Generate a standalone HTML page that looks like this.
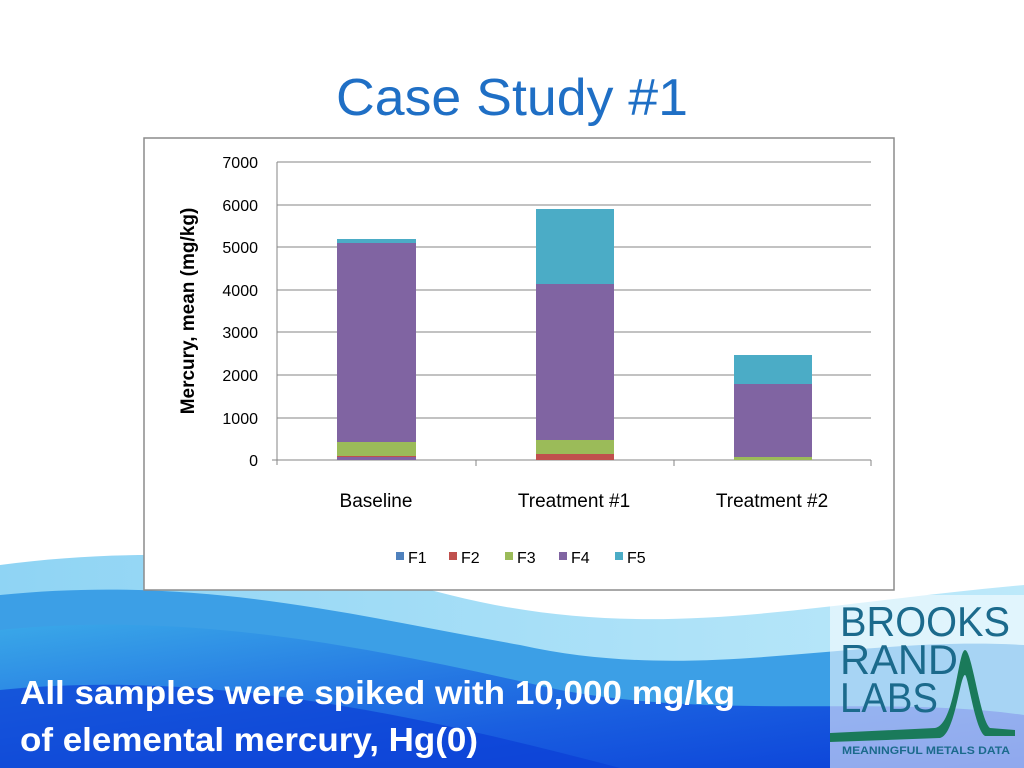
<!DOCTYPE html>
<html><head><style>
body{margin:0;width:1024px;height:768px;overflow:hidden;background:#fff;font-family:"Liberation Sans",sans-serif;position:relative}
</style></head><body>
<svg width="1024" height="768" style="position:absolute;left:0;top:0">
<defs>
<linearGradient id="g1" x1="0" y1="0" x2="1" y2="1"><stop offset="0" stop-color="#3aa8e8"/><stop offset="0.6" stop-color="#1a5fe0"/><stop offset="1" stop-color="#0a3fd8"/></linearGradient>
<linearGradient id="g2" x1="0" y1="0" x2="1" y2="0"><stop offset="0" stop-color="#8fd4f4"/><stop offset="1" stop-color="#bde9fa"/></linearGradient>
</defs>
<path d="M0 565 C150 545 300 555 450 595 C650 645 800 605 1024 585 L1024 768 L0 768Z" fill="url(#g2)"/>
<path d="M0 595 C200 575 350 615 520 645 C700 685 850 635 1024 645 L1024 768 L0 768Z" fill="#3c9fe6"/>
<path d="M0 630 C200 610 380 650 560 690 C720 720 880 695 1024 715 L1024 768 L0 768Z" fill="url(#g1)"/>
<path d="M0 690 C200 670 400 710 620 768 L0 768Z" fill="#0b3ed6" opacity="0.7"/>
<rect x="830" y="595" width="194" height="173" fill="#fff" opacity="0.55"/>
<rect x="144" y="138" width="750" height="452" fill="#fff" stroke="#8c8c8c" stroke-width="1.5"/>
<g stroke="#868686" stroke-width="1">
<line x1="277" y1="162" x2="871" y2="162"/><line x1="277" y1="205" x2="871" y2="205"/><line x1="277" y1="247" x2="871" y2="247"/><line x1="277" y1="290" x2="871" y2="290"/><line x1="277" y1="332" x2="871" y2="332"/><line x1="277" y1="375" x2="871" y2="375"/><line x1="277" y1="418" x2="871" y2="418"/>
<line x1="277" y1="162" x2="277" y2="465"/><line x1="272" y1="460" x2="871" y2="460"/>
<line x1="476" y1="460" x2="476" y2="466"/><line x1="674" y1="460" x2="674" y2="466"/><line x1="871" y1="460" x2="871" y2="466"/>
</g>
<g font-size="16" fill="#000" text-anchor="end">
<text x="258" y="168">7000</text><text x="258" y="211">6000</text><text x="258" y="253">5000</text><text x="258" y="296">4000</text><text x="258" y="338">3000</text><text x="258" y="381">2000</text><text x="258" y="424">1000</text><text x="258" y="466">0</text>
</g>
<text transform="translate(194 311) rotate(-90)" text-anchor="middle" font-size="19" font-weight="bold">Mercury, mean (mg/kg)</text>
<rect x="337" y="456" width="79" height="4" fill="#8064a2"/><rect x="337" y="456" width="79" height="1" fill="#c0504d"/>
<rect x="337" y="442" width="79" height="14" fill="#9bbb59"/>
<rect x="337" y="243" width="79" height="199" fill="#8064a2"/>
<rect x="337" y="239" width="79" height="4" fill="#4bacc6"/>
<rect x="536" y="454" width="78" height="6" fill="#c0504d"/>
<rect x="536" y="440" width="78" height="14" fill="#9bbb59"/>
<rect x="536" y="284" width="78" height="156" fill="#8064a2"/>
<rect x="536" y="209" width="78" height="75" fill="#4bacc6"/>
<rect x="734" y="457" width="78" height="3" fill="#9bbb59"/>
<rect x="734" y="384" width="78" height="73" fill="#8064a2"/>
<rect x="734" y="355" width="78" height="29" fill="#4bacc6"/>
<g font-size="19" text-anchor="middle"><text x="376" y="507">Baseline</text><text x="574" y="507">Treatment #1</text><text x="772" y="507">Treatment #2</text></g>
<g font-size="16">
<rect x="396" y="552" width="8" height="8" fill="#4f81bd"/><text x="408" y="563">F1</text>
<rect x="449" y="552" width="8" height="8" fill="#c0504d"/><text x="461" y="563">F2</text>
<rect x="505" y="552" width="8" height="8" fill="#9bbb59"/><text x="517" y="563">F3</text>
<rect x="559" y="552" width="8" height="8" fill="#8064a2"/><text x="571" y="563">F4</text>
<rect x="615" y="552" width="8" height="8" fill="#4bacc6"/><text x="627" y="563">F5</text>
</g>
<text x="336" y="115" font-size="52" fill="#1f6fc5" textLength="352" lengthAdjust="spacingAndGlyphs">Case Study #1</text>
<g font-size="33" font-weight="bold" fill="#fff"><text x="20" y="704" textLength="715" lengthAdjust="spacingAndGlyphs">All samples were spiked with 10,000 mg/kg</text><text x="20" y="751" textLength="458" lengthAdjust="spacingAndGlyphs">of elemental mercury, Hg(0)</text></g>
<g fill="#1b6a8c" font-size="42">
<text x="840" y="636" textLength="170" lengthAdjust="spacingAndGlyphs">BROOKS</text><text x="840" y="674" textLength="118" lengthAdjust="spacingAndGlyphs">RAND</text><text x="840" y="712" textLength="98" lengthAdjust="spacingAndGlyphs">LABS</text></g>
<path d="M830 733 L935 728 C955 725 958 650 965 650 C972 650 980 720 990 728 L1015 730 L1015 736 L985 736 C975 730 968 675 965 675 C960 675 955 735 940 738 L830 742Z" fill="#1a7a5a"/>
<text x="842" y="754" font-size="11" font-weight="bold" fill="#1b6a8c" textLength="168" lengthAdjust="spacingAndGlyphs">MEANINGFUL METALS DATA</text>
</svg>
</body></html>
